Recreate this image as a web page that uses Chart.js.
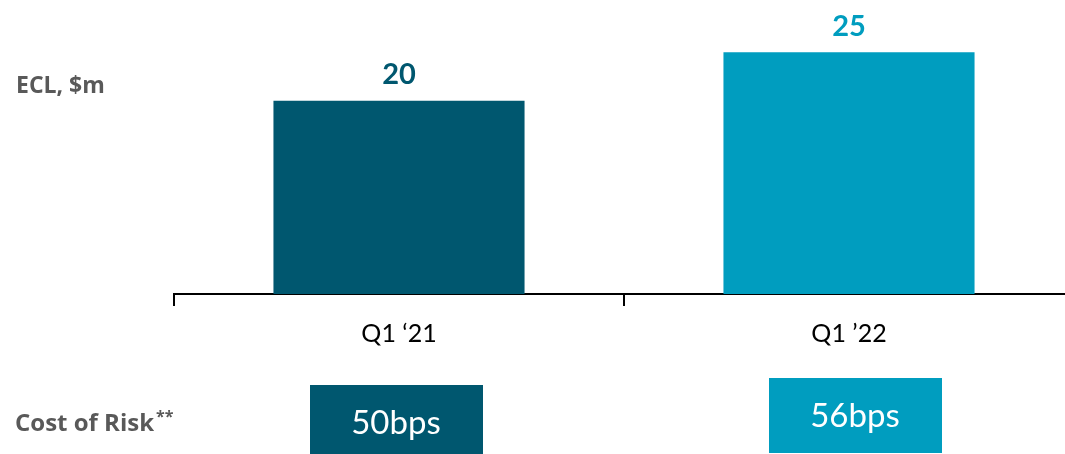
<!DOCTYPE html>
<html>
<head>
<meta charset="utf-8">
<script src="https://cdn.jsdelivr.net/npm/chart.js@4.4.1/dist/chart.umd.min.js"></script>
<style>
    html, body { margin: 0; padding: 0; background: #fff; overflow: hidden; }
    #wrap { width: 1080px; height: 454px; position: relative; }
</style>
</head>
<body>
<div id="wrap"><canvas id="ecl-chart"></canvas></div>
<script>
// Chart data
const quarters = ['Q1 \u201821', 'Q1 \u201922'];
const eclValues = [20, 25];
const costOfRisk = [50, 56];
const barColors = ['#00576F', '#009DBF'];

// value labels above each bar
const barLabels = {
    id: 'barLabels',
    afterDatasetsDraw(chart) {
        const ctx = chart.ctx;
        const meta = chart.getDatasetMeta(0);
        ctx.save();
        ctx.font = 'bold 29px Lato';
        ctx.textAlign = 'center';
        ctx.textBaseline = 'middle';
        meta.data.forEach((bar, i) => {
            ctx.fillStyle = barColors[i];
            ctx.fillText(String(eclValues[i]), bar.x, bar.y - 26);
        });
        ctx.restore();
    }
};

// row titles on the left and the cost of risk boxes under each quarter
const sideText = {
    id: 'sideText',
    afterDraw(chart) {
        const ctx = chart.ctx;
        const x = chart.scales.x;
        ctx.save();
        ctx.fillStyle = '#595959';
        ctx.textAlign = 'left';
        ctx.textBaseline = 'middle';
        ctx.font = 'bold 23px "Open Sans"';
        ctx.fillText('ECL, $m', 16, 86);
        ctx.font = 'bold 24px "Open Sans"';
        ctx.fillText('Cost of Risk', 15, 424);
        const w = ctx.measureText('Cost of Risk').width;
        ctx.font = 'bold 16px "Open Sans"';
        ctx.fillText('**', 15 + w + 2, 417);

        // boxes
        const shift = [-3, 6];
        const tops = [385, 378];
        costOfRisk.forEach((v, i) => {
            const cx = x.getPixelForValue(i) + shift[i];
            ctx.fillStyle = barColors[i];
            ctx.fillRect(cx - 86, tops[i], 173, 75);
            ctx.fillStyle = '#ffffff';
            ctx.font = '33px Lato';
            ctx.textAlign = 'center';
            ctx.fillText(v + 'bps', cx, tops[i] + 38);
        });
        ctx.restore();
    }
};

const ctx = document.getElementById('ecl-chart').getContext('2d');
new Chart(ctx, {
    type: 'bar',
    data: {
        labels: quarters,
        datasets: [{
            data: eclValues,
            backgroundColor: barColors,
            barPercentage: 0.558,
            categoryPercentage: 1
        }]
    },
    options: {
        responsive: true,
        maintainAspectRatio: false,
        animation: false,
        layout: { padding: { left: 174, right: 6, top: 4, bottom: 0 } },
        plugins: {
            legend: { display: false },
            tooltip: { enabled: false }
        },
        scales: {
            y: {
                display: false,
                min: 0,
                max: 30
            },
            x: {
                afterFit: scale => { scale.height = 160; },
                grid: {
                    display: true,
                    drawOnChartArea: false,
                    drawTicks: true,
                    tickLength: 12,
                    color: '#000',
                    lineWidth: 2,
                    offset: true
                },
                border: { display: true, color: '#000', width: 2 },
                ticks: {
                    color: '#000',
                    font: { family: 'Lato', size: 25 },
                    padding: 13
                }
            }
        }
    },
    plugins: [barLabels, sideText]
});
</script>
</body>
</html>
